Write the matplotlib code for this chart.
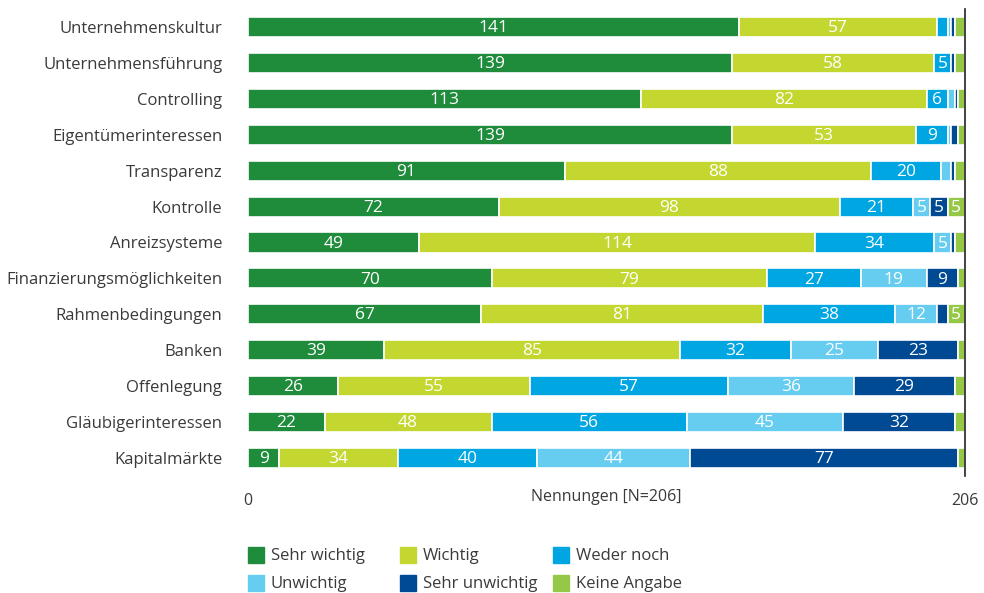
import matplotlib.pyplot as plt
import numpy as np
from matplotlib.patches import Rectangle

plt.rcParams['font.family'] = ['Open Sans', 'DejaVu Sans']

# Data
categories = ["Unternehmenskultur", "Unternehmensführung", "Controlling",
              "Eigentümerinteressen", "Transparenz", "Kontrolle",
              "Anreizsysteme", "Finanzierungsmöglichkeiten",
              "Rahmenbedingungen", "Banken", "Offenlegung",
              "Gläubigerinteressen", "Kapitalmärkte"]

sehr_wichtig = [141, 139, 113, 139, 91, 72, 49, 70, 67, 39, 26, 22, 9]
wichtig = [57, 58, 82, 53, 88, 98, 114, 79, 81, 85, 55, 48, 34]
weder_noch = [3, 5, 6, 9, 20, 21, 34, 27, 38, 32, 57, 56, 40]
unwichtig = [1, 0, 2, 1, 3, 5, 5, 19, 12, 25, 36, 45, 44]
sehr_unwichtig = [1, 1, 1, 2, 1, 5, 1, 9, 3, 23, 29, 32, 77]
keine_angabe = [3, 3, 2, 2, 3, 5, 3, 2, 5, 2, 3, 3, 2]

series_names = ["Sehr wichtig", "Wichtig", "Weder noch",
                "Unwichtig", "Sehr unwichtig", "Keine Angabe"]
series = [sehr_wichtig, wichtig, weder_noch, unwichtig, sehr_unwichtig, keine_angabe]
colors = ["#1f8c3b", "#c3d730", "#00a6e2", "#66cdf1", "#004a94", "#95c847"]

N = 206
text_color = "#3a3a3a"

fig = plt.figure(figsize=(9.84, 5.93), dpi=100)
ax = fig.add_axes([248 / 984, 1 - 476 / 593, (965 - 248) / 984, 467 / 593])

y = np.arange(len(categories))
left = np.zeros(len(categories))
for name, vals, col in zip(series_names, series, colors):
    vals = np.array(vals, dtype=float)
    ax.barh(y, vals, left=left, height=0.56, color=col,
            edgecolor="white", linewidth=1.2, label=name)
    for yi, l, v in zip(y, left, vals):
        if v >= 5:
            ax.text(l + v / 2, yi + 0.03, f"{int(v)}", ha="center", va="center",
                    color="white", fontsize=12.5)
    left += vals

ax.set_xlim(0, N)
ax.set_ylim(len(categories) - 0.5, -0.5)
ax.set_yticks(y)
ax.set_yticklabels(categories, fontsize=12, color=text_color)
ax.set_xticks([0, N])
ax.set_xticklabels(["0", str(N)], fontsize=11.5, color=text_color)
ax.tick_params(axis="both", length=0)
ax.tick_params(axis="y", pad=18.5)
ax.tick_params(axis="x", pad=12)
ax.text(N / 2, -0.028, "Nennungen [N=206]", transform=ax.get_xaxis_transform(),
        ha="center", va="top", fontsize=11.5, color=text_color)

for s in ["top", "left", "bottom"]:
    ax.spines[s].set_visible(False)
ax.spines["right"].set_color("#222222")
ax.spines["right"].set_linewidth(1.2)

# Legend drawn as squares and labels in two rows
leg_x = [248, 400, 553]
leg_y = [555, 583]
for i, (name, col) in enumerate(zip(series_names, colors)):
    px = leg_x[i % 3]
    py = leg_y[i // 3]
    fig.patches.append(Rectangle((px / 984, 1 - (py + 8) / 593), 16 / 984, 16 / 593,
                                 transform=fig.transFigure, color=col))
    fig.text((px + 23) / 984, 1 - (py + 1) / 593, name, ha="left", va="center",
             fontsize=12, color=text_color)

fig.savefig("out.png", dpi=100)
